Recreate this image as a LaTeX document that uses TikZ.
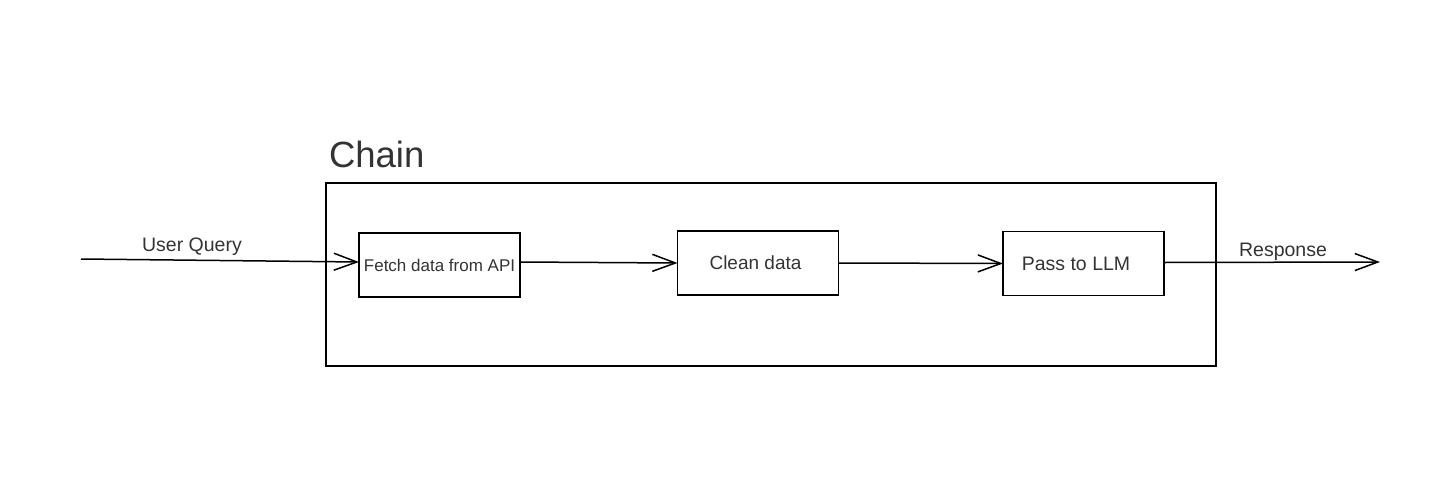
\documentclass[tikz,border=0pt]{standalone}
\usepackage{fontspec}
\setmainfont{Liberation Sans}
\usetikzlibrary{arrows.meta}
\definecolor{txtgray}{HTML}{333333}

\begin{document}
\begin{tikzpicture}[
    x=1pt,y=-1pt,
    every node/.style={
        inner sep=0pt,
        outer sep=0pt,
        text=txtgray,
    },
    chainbox/.style={
        draw=black,rectangle,
        line width=1.5pt,
        minimum width=890pt,
        minimum height=183pt,
    },
    stepbox/.style={
        draw=black,rectangle,
        line width=1.5pt,
        minimum width=161pt,
        minimum height=64pt,
        font=#1,
    },
    flow/.style={
        draw=black,
        line width=1.5pt,
        -{Straight Barb[length=23pt,width=17pt,line width=1.5pt]},
    },
]
    \useasboundingbox (0,0) rectangle (1440,498);
    % ~~~ outer chain ~~~~~~~~~~~~~~~~~~~~~~~~~~~~~~~~~~~~~~~~~
    \node[chainbox] (chain) at (771,274.5) {};
    \node[anchor=base west,font=\fontsize{36.5}{40}\selectfont] (chaintitle) at (329,167) {Chain};

    % ~~~ steps ~~~~~~~~~~~~~~~~~~~~~~~~~~~~~~~~~~~~~~~~~~~~~~~
    \node[stepbox={\fontsize{17}{19}\selectfont}] (fetch) at (439.5,265) {Fetch data from API};
    \node[stepbox={\fontsize{19}{21}\selectfont}] (clean) at (758,263) {Clean data\hspace*{5pt}};
    \node[stepbox={\fontsize{19.5}{22}\selectfont}] (llm)   at (1083.5,263.5) {Pass to LLM\hspace*{15pt}};

    \coordinate (query) at (81,259);
    \coordinate (answer) at (1380,262);

    % ~~~ connectors ~~~~~~~~~~~~~~~~~~~~~~~~~~~~~~~~~~~~~~~~~~
    \draw[flow] (query) -- ([yshift=3pt]fetch.west);
    \draw[flow] ([yshift=3pt]fetch.east) -- (clean.west);
    \draw[flow] (clean.east) -- (llm.west);
    \draw[flow] ([yshift=1pt]llm.east) -- (answer);

    \node[font=\fontsize{19.5}{22}\selectfont] (querylabel) at (192,246.5) {User Query};
    \node[font=\fontsize{19.5}{22}\selectfont] (answerlabel) at (1283,251.5) {Response};
\end{tikzpicture}
\end{document}
